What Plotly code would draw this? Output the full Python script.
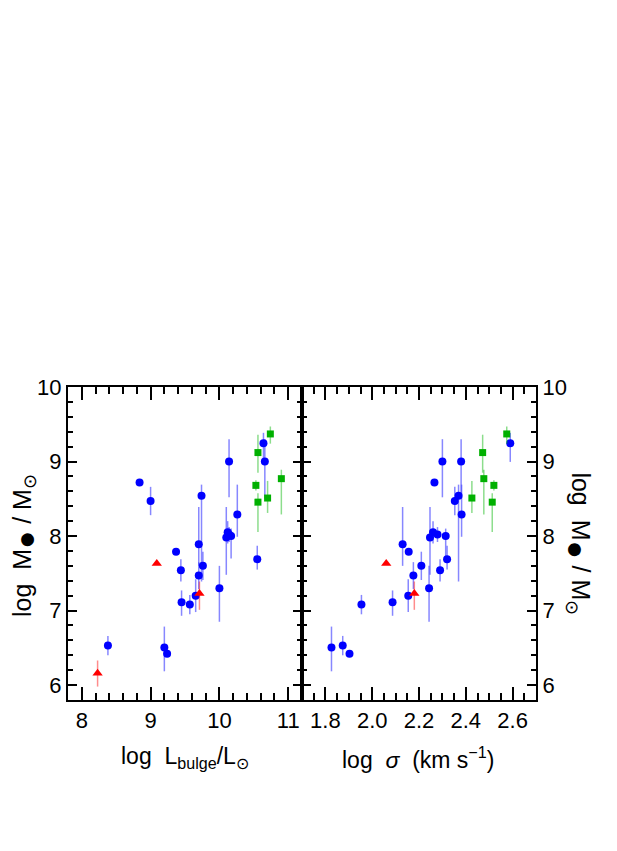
import plotly.graph_objects as go

# Blue circles: log L_bulge, log sigma, log M_bh, +err, -err
blue_logl = [8.84, 9.00, 9.74, 9.37, 9.70, 9.44, 9.76, 9.70, 9.655, 9.45, 9.57, 8.38,
             9.20, 9.24, 10.14, 10.66, 10.26, 10.10, 10.12, 10.14, 10.17, 10.00, 10.55, 10.64]
blue_sig = [2.266, 2.353, 2.369, 2.156, 2.13, 2.29, 2.21, 2.176, 2.154, 2.087, 1.954, 1.874,
            1.826, 1.903, 2.30, 2.38, 2.382, 2.247, 2.26, 2.279, 2.314, 2.243, 2.32, 2.59]
blue_mbh = [8.72, 8.47, 8.54, 7.79, 7.89, 7.54, 7.60, 7.47, 7.20, 7.11, 7.08, 6.53,
            6.505, 6.42, 9.00, 9.00, 8.29, 7.98, 8.05, 8.02, 8.00, 7.30, 7.69, 9.245]
blue_eup = [0.04, 0.19, 0.15, 0.04, 0.50, 0.15, 0.19, 0.18, 0.22, 0.16, 0.13, 0.13,
            0.28, 0.03, 0.30, 0.30, 0.40, 0.41, 0.15, 0.10, 0.10, 0.30, 0.18, 0.14]
blue_edn = [0.04, 0.19, 1.15, 0.04, 0.29, 0.15, 0.19, 0.18, 0.22, 0.18, 0.13, 0.13,
            0.32, 0.03, 0.48, 0.50, 0.30, 0.50, 0.15, 0.10, 0.30, 0.45, 0.14, 0.25]

# Green squares
green_logl = [10.74, 10.56, 10.53, 10.90, 10.56, 10.70]
green_sig = [2.575, 2.472, 2.52, 2.477, 2.513, 2.426]
green_mbh = [9.37, 9.12, 8.68, 8.77, 8.455, 8.51]
green_eup = [0.10, 0.24, 0.07, 0.12, 0.12, 0.23]
green_edn = [0.13, 0.27, 0.07, 0.48, 0.40, 0.20]

# Red triangles (last one has no sigma)
red_logl = [9.09, 9.71, 8.23]
red_sig = [2.06, 2.18, None]
red_mbh = [7.63, 7.23, 6.16]
red_eup = [0.0, 0.16, 0.17]
red_edn = [0.0, 0.22, 0.18]

FONT = "Liberation Sans"

groups = [
    (blue_logl, blue_sig, blue_mbh, blue_eup, blue_edn, "circle", 8, "#0000ff", "rgba(70,70,255,0.65)"),
    (green_logl, green_sig, green_mbh, green_eup, green_edn, "square", 7, "#00b000", "rgba(0,180,0,0.45)"),
    (red_logl, red_sig, red_mbh, red_eup, red_edn, "triangle-up", 9, "#ff0000", "rgba(255,0,0,0.45)"),
]

fig = go.Figure()
for logl, sig, mbh, eup, edn, sym, size, col, ecol in groups:
    err = dict(type="data", symmetric=False, array=eup, arrayminus=edn,
               color=ecol, thickness=1.5, width=0)
    fig.add_trace(go.Scatter(x=logl, y=mbh, mode="markers", xaxis="x", yaxis="y",
                             marker=dict(symbol=sym, size=size, color=col),
                             error_y=err, showlegend=False))
    fig.add_trace(go.Scatter(x=sig, y=mbh, mode="markers", xaxis="x2", yaxis="y2",
                             marker=dict(symbol=sym, size=size, color=col),
                             error_y=err, showlegend=False))

common = dict(showline=True, linecolor="black", linewidth=2, mirror="allticks",
              ticks="inside", tickcolor="black", tickwidth=2,
              showgrid=False, zeroline=False,
              tickfont=dict(family=FONT, size=22, color="black"))
minor = dict(ticks="inside", tickwidth=1.5, tickcolor="black")

# page body has an 8px margin, so the margins are shifted by that
fig.update_layout(
    width=617, height=851,
    margin=dict(l=60, r=89, t=379, b=159, autoexpand=False),
    paper_bgcolor="white", plot_bgcolor="white",
    xaxis=dict(domain=[0, 0.5], range=[7.8, 11.2], dtick=1, tick0=0, ticklen=13,
               minor=dict(dtick=0.2, ticklen=7, **minor), **common),
    xaxis2=dict(domain=[0.5, 1], range=[1.7, 2.7], dtick=0.2, tick0=0, tickformat=".1f",
                ticklen=13, minor=dict(dtick=0.05, ticklen=7, **minor), **common),
    yaxis=dict(anchor="x", range=[5.8, 10], dtick=1, ticklen=9,
               minor=dict(dtick=0.2, ticklen=5, **minor), **common),
    yaxis2=dict(anchor="x2", range=[5.8, 10], dtick=1, side="right", ticklen=9,
                minor=dict(dtick=0.2, ticklen=5, **minor), **common),
)

title_font = dict(family=FONT, size=25, color="black")
ylabel = ("log  M<sub><span style='font-size:30px'>●</span></sub> / M"
          "<sub>⊙</sub>")
fig.add_annotation(text=ylabel, xref="paper", yref="paper", x=-0.092, y=0.495,
                   xanchor="center", yanchor="middle",
                   textangle=-90, showarrow=False, font=title_font)
fig.add_annotation(text=ylabel, xref="paper", yref="paper", x=1.09, y=0.50,
                   xanchor="center", yanchor="middle",
                   textangle=90, showarrow=False, font=title_font)
fig.add_annotation(text="log  L<sub>bulge</sub>/L<sub>⊙</sub>", xref="paper", yref="paper",
                   x=0.25, y=-0.185, xanchor="center", yanchor="middle",
                   showarrow=False, font=dict(family=FONT, size=23, color="black"))
fig.add_annotation(text="log  <i>σ</i>  (km s<sup>−1</sup>)", xref="paper", yref="paper",
                   x=0.748, y=-0.185, xanchor="center", yanchor="middle",
                   showarrow=False, font=dict(family=FONT, size=23, color="black"))

fig.write_html("out.html")
